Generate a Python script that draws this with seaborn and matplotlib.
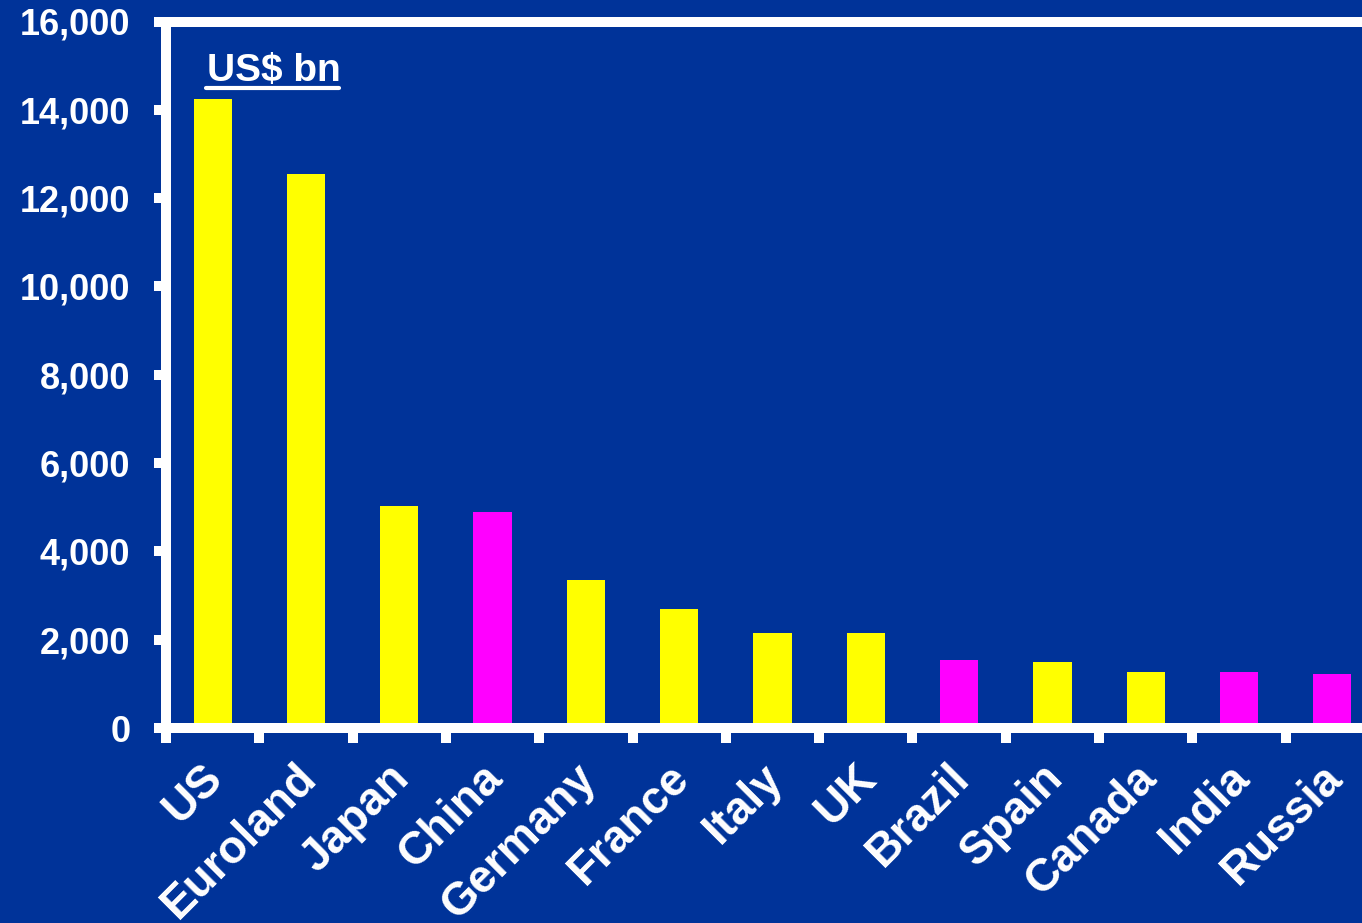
import numpy as np
import pandas as pd
import matplotlib
matplotlib.use('Agg')
import matplotlib.pyplot as plt
import matplotlib.transforms as mtransforms
import seaborn as sns
from matplotlib.lines import Line2D

countries = ['US', 'Euroland', 'Japan', 'China', 'Germany', 'France', 'Italy',
             'UK', 'Brazil', 'Spain', 'Canada', 'India', 'Russia']
gdp_bn = [14250, 12550, 5030, 4890, 3350, 2690, 2150, 2150, 1540, 1490, 1270, 1270, 1220]
group = ['dev', 'dev', 'dev', 'bric', 'dev', 'dev', 'dev', 'dev', 'bric', 'dev', 'dev', 'bric', 'bric']
y_ticks = [0, 2000, 4000, 6000, 8000, 10000, 12000, 14000, 16000]

BG = '#003399'
WHITE = 'white'
palette = {'dev': '#FFFF00', 'bric': '#FF00FF'}

df = pd.DataFrame({'country': countries, 'gdp': gdp_bn, 'group': group})

sns.set_style('white')
plt.rcParams['font.family'] = ['Liberation Sans', 'DejaVu Sans']
plt.rcParams['font.weight'] = 'bold'

fig = plt.figure(figsize=(13.62, 9.23), dpi=100, facecolor=BG)
ax = fig.add_axes([166 / 1362, 195 / 923, 1213 / 1362, 706.5 / 923])
ax.set_facecolor(BG)

sns.barplot(data=df, x='country', y='gdp', hue='group', palette=palette,
            dodge=False, width=0.41, legend=False, saturation=1, ax=ax,
            linewidth=0)

ax.set_xlim(-0.5, len(countries) - 0.5)
ax.set_ylim(0, 16000)
ax.set_yticks(y_ticks)
ax.set_yticklabels([f'{v:,}' for v in y_ticks], fontsize=26, fontweight='bold', color=WHITE)
ax.set_xlabel('')
ax.set_ylabel('')

# category labels at centres, tick marks at boundaries
ax.set_xticks(np.arange(len(countries)))
ax.set_xticklabels(countries, rotation=45, ha='right', va='top', rotation_mode='anchor',
                   fontsize=33, fontweight='bold', color=WHITE)
ax.set_xticks(np.arange(len(countries) + 1) - 0.5, minor=True)
ax.tick_params(axis='x', which='major', bottom=True, length=0, pad=20)
ax.tick_params(axis='x', which='minor', bottom=True, length=10.8, width=7.2,
               color=WHITE, direction='out')
ax.tick_params(axis='y', which='major', left=True, length=8.6, width=7.2,
               color=WHITE, direction='out', pad=17)

shift = mtransforms.ScaledTranslation(-12 / 100, 0, fig.dpi_scale_trans)
for lab in ax.get_xticklabels():
    lab.set_transform(lab.get_transform() + shift)

for side in ['left', 'bottom', 'top']:
    ax.spines[side].set_visible(True)
    ax.spines[side].set_color(WHITE)
    ax.spines[side].set_linewidth(7.2)
ax.spines['right'].set_visible(False)
for s in ax.spines.values():
    s.set_capstyle('projecting')

label = ax.text(-0.06, 14650, 'US$ bn', fontsize=28, fontweight='bold', color=WHITE,
                ha='left', va='baseline')

fig.canvas.draw()
bb = label.get_window_extent()
fig.add_artist(Line2D([(bb.x0 - 1) / fig.bbox.width, (bb.x1 - 2) / fig.bbox.width],
                      [(bb.y0 + 1) / fig.bbox.height] * 2,
                      color=WHITE, linewidth=3, transform=fig.transFigure))

fig.savefig('out.png', dpi=100, facecolor=BG)
